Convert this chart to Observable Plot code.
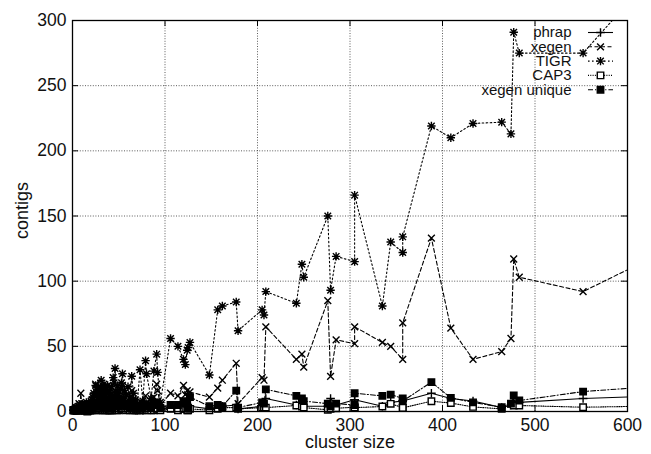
<!DOCTYPE html>
<html><head><meta charset="utf-8">
<script src="https://cdn.jsdelivr.net/npm/d3@7"></script>
<script src="https://cdn.jsdelivr.net/npm/@observablehq/plot@0.6"></script>
<style>
html,body{margin:0;padding:0;background:#fff;}
#chart{width:651px;height:454px;overflow:hidden;}
svg{display:block;}
</style></head><body><div id="chart"></div>
<script>
// ---- data ----
const clusterSize = [
  1,2,3,4,5,6,7,8,9,10,
  11,12,13,14,15,16,17,18,19,20,
  21,22,23,24,25,26,27,28,29,30,
  31,32,33,34,35,36,37,38,39,40,
  41,42,43,44,45,46,47,48,49,50,
  52,53,54,56,58,60,62,64,66,68,
  70,73,76,79,80,85,88,91,92,95,
  106,114,120,122,124,125,127,
  148,157,162,177,179,205,207,209,
  242,248,250,276,279,285,305,305,335,344,357,357,
  388,409,433,464,474,477,483,552,615
];
const phrap = [
  1,1,1,1,1,2,1,2,2,1,
  2,1,1,1,2,1,1,1,1,1,
  2,2,3,3,3,2,3,4,2,3,
  4,3,2,3,2,3,2,3,2,2,
  2,3,2,3,3,4,3,2,3,2,
  3,3,4,3,2,3,2,4,2,1,
  1,2,1,3,2,2,3,3,3,2,
  3,2,3,3,3,2,4,
  2,3,4,5,2,4,4,10,
  5,5,4,4,10,5,9,9,4,7,8,8,
  14,10,8,3,5,8,7,10,11.5
];
const xegen = [
  1,1,2,3,2,4,6,5,14,6,
  4,5,3,4,2,3,2,4,2,3,
  6,9,12,8,21,8,10,14,9,11,
  13,10,8,12,7,9,6,10,5,8,
  8,6,5,13,11,16,11,7,9,6,
  8,11,20,10,6,9,5,16,8,4,
  3,8,5,12,7,6,11,21,16,5,
  14,12,20,13,16,11,15,
  11,18,24,37,6,26,24,65,
  40,44,34,85,27,55,52,65,53,50,40,68,
  133,64,40,46,56,117,103,92,114
];
const tigr = [
  1,1,2,2,3,2,4,3,5,4,
  6,3,5,4,7,3,5,4,6,8,
  9,11,14,12,20,15,13,18,16,19,
  24,17,14,21,12,18,15,20,11,16,
  13,19,10,26,22,33,15,12,20,14,
  17,22,29,16,13,19,11,27,14,9,
  6,32,8,39,29,10,31,44,30,7,
  56,50,40,36,47,49,53,
  28,78,81,84,62,78,74,92,
  83,113,103,150,93,119,115,166,81,130,122,134,
  219,210,221,222,213,291,275,275,325
];
const cap3 = [
  1,1,1,1,1,1,1,1,2,1,
  1,1,1,1,1,0,1,1,1,1,
  1,2,2,2,2,1,2,2,1,2,
  2,2,1,2,1,2,1,2,1,1,
  1,1,1,2,2,2,2,1,2,1,
  2,2,2,2,1,2,1,2,1,1,
  1,1,1,2,1,1,1,2,2,1,
  2,1,2,2,1,1,2,
  1,2,3,3,2,3,3,3,
  4.6,3.8,3,1.3,2,2.5,3.3,3,3.8,5.9,3,2.8,
  7.9,6.5,3.5,2,5.9,4.6,4.6,3.3,4
];
const xegenUnique = [
  1,1,1,2,1,2,2,3,3,2,
  3,2,2,1,2,1,1,2,1,2,
  3,4,5,4,6,4,6,7,5,6,
  8,6,5,7,4,5,4,6,3,5,
  5,4,3,7,6,9,6,5,6,4,
  5,6,9,6,4,5,3,8,4,2,
  2,4,2,5,4,3,5,7,6,3,
  5,5,8,6,6,3,11,
  4,5,4,16,3,7,6,17,
  12,10,8,6,4,6,5,14,12,13,10,8,
  22.5,10.5,7,3.3,6,12.3,8.4,15.3,18.5
];
const seriesNames = ["phrap", "xegen", "TIGR", "CAP3", "xegen unique"];
const xTicks = [0, 100, 200, 300, 400, 500, 600];
const yTicks = [0, 50, 100, 150, 200, 250, 300];
const xLabel = "cluster size";
const yLabel = "contigs";

// ---- layout / style ----
const W = 651, H = 454, mL = 72, mR = 24, mT = 20, mB = 43;
const plotW = W - mL - mR, plotH = H - mT - mB;
const FONT = "'Liberation Sans', Arial, Helvetica, sans-serif";

function rad(size) { return Math.sqrt(size / Math.PI); }
const symPlus = {draw(c, s) { const r = rad(s) + 0.5; c.moveTo(-r, 0); c.lineTo(r, 0); c.moveTo(0, -r); c.lineTo(0, r); }};
const symTimes = {draw(c, s) { const r = rad(s) * 0.85; c.moveTo(-r, -r); c.lineTo(r, r); c.moveTo(-r, r); c.lineTo(r, -r); }};
const symStar = {draw(c, s) { const r = rad(s); const q = r * 0.78;
  c.moveTo(-r, 0); c.lineTo(r, 0); c.moveTo(0, -r); c.lineTo(0, r);
  c.moveTo(-q, -q); c.lineTo(q, q); c.moveTo(-q, q); c.lineTo(q, -q); }};
const symSquare = {draw(c, s) { const r = rad(s) * 0.85; c.rect(-r, -r, 2 * r, 2 * r); }};
const symLegendLine = {draw(c, s) { c.moveTo(-12.5, 0); c.lineTo(12.5, 0); }};

const seriesValues = [phrap, xegen, tigr, cap3, xegenUnique];
const seriesStyle = [
  {dash: null, symbol: symPlus, fill: "none", r: 3.8},
  {dash: "4,2.5", symbol: symTimes, fill: "none", r: 4},
  {dash: "1.6,2.4", symbol: symStar, fill: "none", r: 4.2},
  {dash: "1,1.3", symbol: symSquare, fill: "white", r: 3.8},
  {dash: "5,2,1.2,2", symbol: symSquare, fill: "black", r: 3.8}
];

const marks = [];
// grid
marks.push(Plot.ruleX(xTicks.slice(1, -1), {x: d => d, stroke: "#333", strokeWidth: 0.8, strokeDasharray: "1,1.6"}));
marks.push(Plot.ruleY(yTicks.slice(1, -1), {y: d => d, stroke: "#333", strokeWidth: 0.8, strokeDasharray: "1,1.6"}));

seriesNames.forEach((name, k) => {
  const vals = seriesValues[k];
  const st = seriesStyle[k];
  const rows = clusterSize.map((s, i) => ({size: s, value: vals[i]}));
  marks.push(Plot.line(rows, {x: "size", y: "value", stroke: "black", strokeWidth: 1.1,
    strokeDasharray: st.dash, clip: true}));
  marks.push(Plot.dot(rows.filter(d => d.size <= 600 && d.value <= 300),
    {x: "size", y: "value", r: st.r, symbol: st.symbol, stroke: "black", fill: st.fill, strokeWidth: 1.4}));
});

// frame + inward ticks on all sides
marks.push(Plot.frame({stroke: "black", strokeWidth: 1.3}));
marks.push(Plot.tickX(xTicks, {x: d => d, insetTop: plotH - 6, stroke: "black"}));
marks.push(Plot.tickX(xTicks, {x: d => d, insetBottom: plotH - 6, stroke: "black"}));
marks.push(Plot.tickY(yTicks, {y: d => d, insetRight: plotW - 6, stroke: "black"}));
marks.push(Plot.tickY(yTicks, {y: d => d, insetLeft: plotW - 6, stroke: "black"}));

// tick labels
marks.push(Plot.text(xTicks, {x: d => d, text: d => String(d), frameAnchor: "bottom", dy: 13.5,
  textAnchor: "middle", lineAnchor: "middle", fontSize: 17.5, fill: "#111"}));
marks.push(Plot.text(yTicks, {y: d => d, text: d => String(d), frameAnchor: "left", dx: -6,
  textAnchor: "end", lineAnchor: "middle", fontSize: 17.5, fill: "#111"}));

// axis titles
marks.push(Plot.text([xLabel], {text: d => d, frameAnchor: "bottom", dy: 31, textAnchor: "middle",
  lineAnchor: "middle", fontSize: 18, fill: "#111"}));
marks.push(Plot.text([yLabel], {text: d => d, frameAnchor: "left", dx: -50, dy: -5.5, rotate: -90,
  textAnchor: "middle", lineAnchor: "middle", fontSize: 18, fill: "#111"}));

// legend (top right, inside frame)
seriesNames.forEach((name, k) => {
  const st = seriesStyle[k];
  const dy = 12 + k * 14.3;
  marks.push(Plot.text([name], {text: d => d, frameAnchor: "top-right", dx: -56, dy,
    textAnchor: "end", lineAnchor: "middle", fontSize: 15, fill: "#111"}));
  marks.push(Plot.dot([name], {frameAnchor: "top-right", dx: -27, dy, r: 3.5, symbol: symLegendLine,
    stroke: "black", strokeWidth: 1.1, strokeDasharray: st.dash, fill: "none"}));
  marks.push(Plot.dot([name], {frameAnchor: "top-right", dx: -27, dy, r: st.r, symbol: st.symbol,
    stroke: "black", strokeWidth: 1.4, fill: st.fill}));
});

const chart = Plot.plot({
  width: W, height: H,
  marginLeft: mL, marginRight: mR, marginTop: mT, marginBottom: mB,
  style: {fontFamily: FONT, background: "white"},
  x: {domain: [0, 600], axis: null},
  y: {domain: [0, 300], axis: null},
  marks
});
document.getElementById("chart").appendChild(chart);
</script>
</body></html>
